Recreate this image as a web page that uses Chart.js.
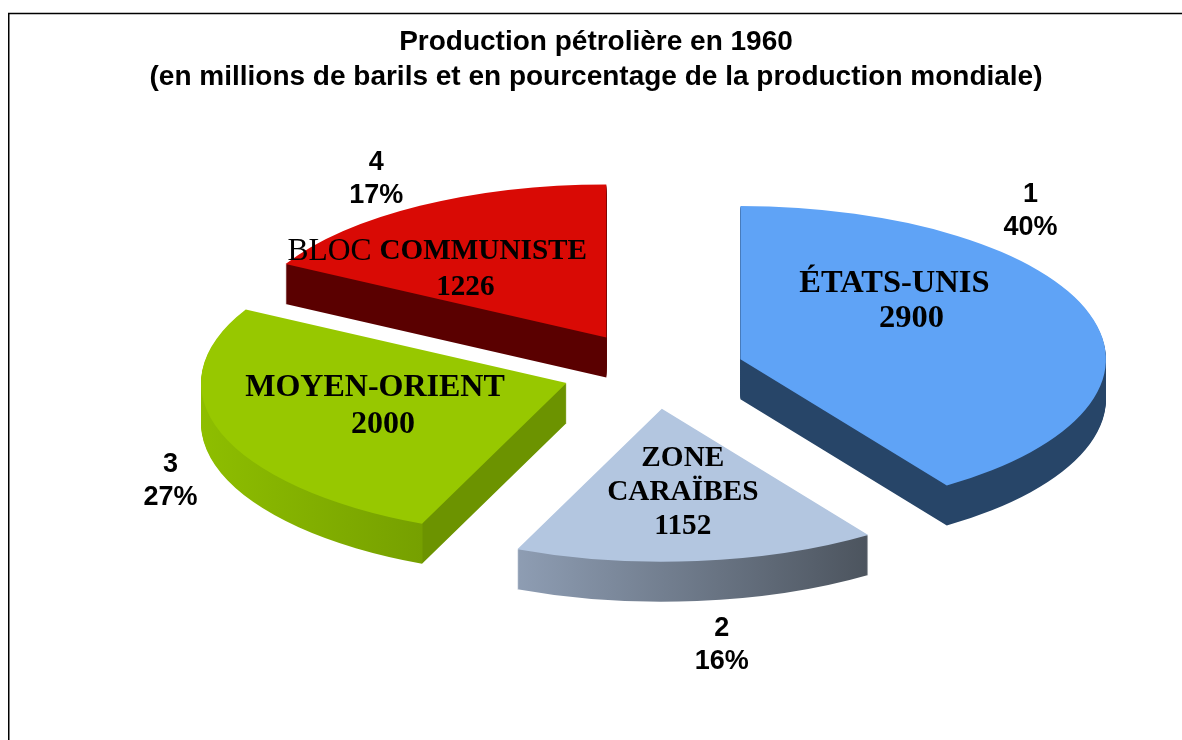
<!DOCTYPE html>
<html lang="fr">
<head>
<meta charset="utf-8">
<title>Production pétrolière en 1960</title>
<style>html,body{margin:0;padding:0;background:#fff}canvas{display:block}</style>
<script src="https://cdn.jsdelivr.net/npm/chart.js@4"></script>
</head>
<body>
<canvas id="c" width="1182" height="740"></canvas>
<script>
const titleLines = ["Production pétrolière en 1960", "(en millions de barils et en pourcentage de la production mondiale)"];
const categories = ["ÉTATS-UNIS", "ZONE CARAÏBES", "MOYEN-ORIENT", "BLOC COMMUNISTE"];
const values = [2900, 1152, 2000, 1226];
const ranks = ["1", "2", "3", "4"];
const percents = ["40%", "16%", "27%", "17%"];
const topColors = ["#5FA3F6", "#B3C6E0", "#97C800", "#D90A05"];
const wallColors = [
  [[0, "#274568"], [1, "#274568"]],
  [[0, "#8E9DB3"], [1, "#4C545E"]],
  [[0, "#8EBE00"], [0.604, "#76A000"], [0.608, "#6C9300"], [1, "#6C9300"]],
  [[0, "#5A0000"], [1, "#5A0000"]]
];
// label runs, per slice: lines of [text, bold, size]
const innerLines = [
  [[["ÉTATS-UNIS", true, 32.5]], [["2900", true, 32.5]]],
  [[["ZONE", true, 29.3]], [["CARAÏBES", true, 29.3]], [["1152", true, 29.3]]],
  [[["MOYEN-ORIENT", true, 32]], [["2000", true, 32]]],
  [[["BLOC ", false, 31.5], ["COMMUNISTE", true, 29.2]], [["1226", true, 29.2]]]
];

// view of the pie
const tilt = 0.419, radius = 365.5, explode = 91.5, depth = 40;
const deg = Math.PI / 180;
const frontStretch = 3.2 * deg, sideSqueeze = 1.2 * deg;   // perspective of the tilted pie
const centre = {x: 653, y: 370.5};
// label anchors relative to each slice's apex, on screen
const innerAnchor = [[154, -58], [21, 84], [-191.5, 23.5], [-169, -68]];
const innerLineHeight = [35, 34, 37, 36];
const innerLineShift = [[0, 17], [0, 0, 0], [0, 8], [0, 28]];
const outerAnchor = [[290, -148], [60, 236.5], [-396, 98.5], [-230, -158.5]];

const warp = ang => {
  const t = ang + Math.PI / 2, f = (1 - Math.cos(t)) / 2;
  return ang + frontStretch * f * f - sideSqueeze * Math.sin(t) * Math.sin(t);
};

const pie3d = {
  id: "pie3d",
  afterDatasetsUpdate(chart) {
    chart.getDatasetMeta(0).data.forEach(a => {
      a.startAngle = warp(a.startAngle);
      a.endAngle = warp(a.endAngle);
      a.circumference = a.endAngle - a.startAngle;
      const m = (a.startAngle + a.endAngle) / 2;
      a.x += Math.cos(m) * explode;
      a.y += Math.sin(m) * explode;
    });
  },
  beforeDatasetsDraw(chart) {
    const ctx = chart.ctx, area = chart.chartArea;
    ctx.save();
    ctx.translate(centre.x, centre.y);
    ctx.scale(1, tilt);
    ctx.translate(-(area.left + area.right) / 2, -(area.top + area.bottom) / 2);
    chart.getDatasetMeta(0).data.forEach((a, i) => {
      let lo = a.x, hi = a.x;
      const from = a.startAngle, to = a.endAngle;
      for (let t = 0; t <= 60; t++) {
        const px = a.x + Math.cos(from + (to - from) * t / 60) * a.outerRadius;
        lo = Math.min(lo, px); hi = Math.max(hi, px);
      }
      const g = ctx.createLinearGradient(lo, 0, hi, 0);
      wallColors[i].forEach(s => g.addColorStop(s[0], s[1]));
      const orig = a.options;
      a.options = Object.create(orig, {backgroundColor: {value: g}});
      for (let d = depth; d >= 1; d--) {
        ctx.save();
        ctx.translate(0, d / tilt);
        a.draw(ctx);
        ctx.restore();
      }
      a.options = orig;
    });
  },
  afterDatasetsDraw(chart) {
    const ctx = chart.ctx, area = chart.chartArea;
    ctx.restore();
    const apex = a => ({
      x: centre.x + (a.x - (area.left + area.right) / 2),
      y: centre.y + (a.y - (area.top + area.bottom) / 2) * tilt
    });
    ctx.save();
    ctx.fillStyle = "#000";
    ctx.textBaseline = "middle";
    const sF = r => (r[1] ? "bold " : "") + r[2] + "px 'Liberation Serif'";
    chart.getDatasetMeta(0).data.forEach((a, i) => {
      const p = apex(a);
      // inner serif label
      const cx = p.x + innerAnchor[i][0], cy = p.y + innerAnchor[i][1];
      const lines = innerLines[i], lh = innerLineHeight[i];
      lines.forEach((runs, l) => {
        let w = 0;
        runs.forEach(r => { ctx.font = sF(r); w += ctx.measureText(r[0]).width; });
        let x = cx + innerLineShift[i][l] - w / 2;
        const y = cy + (l - (lines.length - 1) / 2) * lh;
        ctx.textAlign = "left";
        runs.forEach(r => { ctx.font = sF(r); ctx.fillText(r[0], x, y); x += ctx.measureText(r[0]).width; });
      });
      // outer rank and share
      const ox = p.x + outerAnchor[i][0], oy = p.y + outerAnchor[i][1];
      ctx.font = "bold 27px 'Liberation Sans'";
      ctx.textAlign = "center";
      ctx.fillText(ranks[i], ox, oy - 16.5);
      ctx.fillText(percents[i], ox, oy + 16.5);
    });
    ctx.restore();
  },
  afterDraw(chart) {
    const ctx = chart.ctx;
    ctx.save();
    ctx.strokeStyle = "#000";
    ctx.lineWidth = 1.5;
    ctx.beginPath();
    ctx.moveTo(8.75, 740);
    ctx.lineTo(8.75, 13.5);
    ctx.lineTo(1182, 13.5);
    ctx.stroke();
    ctx.restore();
  }
};

new Chart(document.getElementById("c"), {
  type: "pie",
  plugins: [pie3d],
  data: {
    labels: categories,
    datasets: [{
      data: values,
      backgroundColor: topColors,
      borderWidth: 0,
      clip: false
    }]
  },
  options: {
    responsive: false,
    animation: false,
    radius: radius,
    layout: {padding: {left: 10, top: 25}},
    plugins: {
      legend: {display: false},
      tooltip: {enabled: false},
      title: {
        display: true,
        text: titleLines,
        color: "#000",
        font: {family: "'Liberation Sans'", size: 28, weight: "bold", lineHeight: 1.25},
        padding: {top: 0, bottom: 10}
      }
    }
  }
});
</script>
</body>
</html>
